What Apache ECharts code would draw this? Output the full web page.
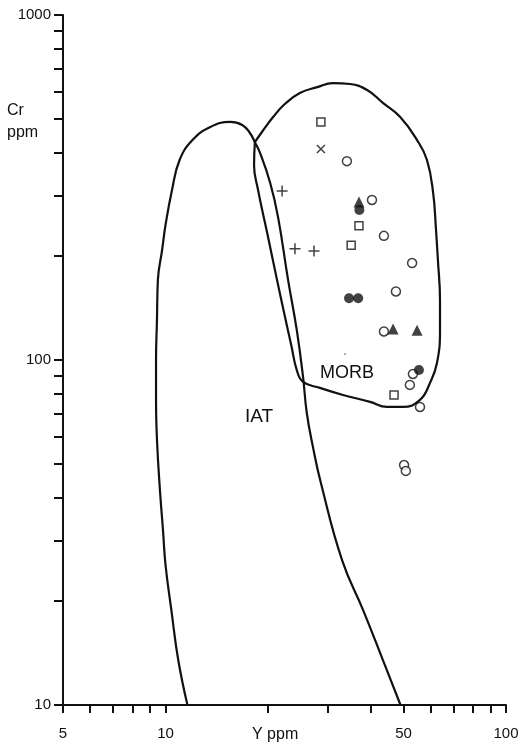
<!DOCTYPE html>
<html>
<head>
<meta charset="utf-8">
<script src="https://cdn.jsdelivr.net/npm/echarts@6/dist/echarts.min.js"></script>
<style>
  html, body { margin: 0; padding: 0; background: #fff; }
  #chart { width: 525px; height: 748px; }
</style>
</head>
<body>
<div id="chart"></div>
<script>
// Axis ticks and labels (Y ppm on x, Cr ppm on y, both logarithmic)
const xTickValues = [5, 6, 7, 8, 9, 10, 20, 30, 40, 50, 60, 70, 80, 90, 100];
const xLabelValues = [5, 10, 50, 100];
const yTickValues = [10, 20, 30, 40, 50, 60, 70, 80, 90, 100, 200, 300, 400, 500, 600, 700, 800, 900, 1000];
const yLabelValues = [10, 100, 1000];

// Island arc tholeiite field (open at the base)
const iatBoundary = [
  [11.6, 10], [10.9, 13.5], [10.4, 18.9], [10.0, 25.5], [9.83, 32.2], [9.63, 42.0],
  [9.44, 58.7], [9.38, 76.6], [9.38, 100], [9.44, 131], [9.50, 171], [9.77, 208],
  [10.0, 246], [10.45, 311], [11.0, 380], [12.0, 434], [13.5, 473], [15.5, 490],
  [16.8, 480], [17.7, 455], [18.3, 428], [18.9, 401], [20.3, 326], [21.4, 260],
  [22.9, 171], [24.3, 122], [25.35, 89.3], [26.0, 70.2], [27.1, 56.0], [28.6, 44.0],
  [33.0, 26.3], [38.0, 18.9], [43.5, 13.5], [49.0, 10]
];

// Mid-ocean ridge basalt field (closed)
const morbBoundary = [
  [18.3, 428], [19.2, 458], [20.7, 506], [22.4, 552], [24.8, 594], [27.9, 618],
  [31.0, 635], [34.8, 631], [39.1, 606], [43.5, 556], [48.9, 506], [54.8, 434],
  [58.6, 380], [61.1, 305], [62.3, 238], [63.1, 195], [64.0, 149], [64.0, 122],
  [62.7, 98.0], [59.8, 85.8], [55.9, 76.6], [49.8, 73.1], [44.7, 73.1], [39.9, 75.6],
  [33.2, 79.2], [28.4, 83.0], [25.35, 86.4], [24.3, 93.5], [23.4, 110.5], [22.3, 137],
  [21.25, 171], [19.9, 233], [18.7, 311], [18.2, 367], [18.3, 428]
];

// Samples, one list per symbol
const openCircles = [
  [34.1, 377], [40.4, 291], [43.8, 229], [53.0, 191], [47.5, 158], [43.8, 121],
  [53.3, 91.1], [52.2, 84.7], [55.9, 73.1], [50.2, 49.6], [50.8, 47.7]
];
const openSquares = [[28.6, 490], [37.0, 245], [35.1, 215], [46.9, 79.2]];
const crosses = [[28.6, 409]];
const plusses = [[22.0, 309], [24.0, 210], [27.3, 207]];
const filledCircles = [[37.1, 272], [34.6, 151], [36.8, 151], [55.5, 93.5]];
const filledTriangles = [[37.0, 287], [46.6, 123], [54.8, 122]];

const ink = '#111';
const font = '"Liberation Sans", Arial, sans-serif';

const chart = echarts.init(document.getElementById('chart'), null, { renderer: 'canvas' });

function boundary(data) {
  return {
    type: 'line', data, smooth: 0.45, symbol: 'none', silent: true,
    lineStyle: { color: ink, width: 2.2 }, z: 2
  };
}
function samples(data, symbol, size, filled) {
  return {
    type: 'scatter', data, symbol, symbolSize: size, silent: true, z: 5,
    itemStyle: filled
      ? { color: ink, borderWidth: 0 }
      : { color: '#fff', borderColor: ink, borderWidth: 1.5 }
  };
}
const plain = v => String(v);

chart.setOption({
  backgroundColor: '#fff',
  animation: false,
  grid: { left: 63, right: 19, top: 15, bottom: 43 },
  xAxis: {
    type: 'log', logBase: 10, min: 5, max: 100,
    axisLine: { show: true, lineStyle: { color: ink, width: 2 } },
    axisTick: { show: true, length: 8, inside: false, customValues: xTickValues,
      lineStyle: { color: ink, width: 2 } },
    axisLabel: { show: true, margin: 21, customValues: xLabelValues, formatter: plain,
      color: ink, fontSize: 15, fontFamily: font },
    splitLine: { show: false },
    minorTick: { show: false }
  },
  yAxis: {
    type: 'log', logBase: 10, min: 10, max: 1000,
    axisLine: { show: true, lineStyle: { color: ink, width: 2 } },
    axisTick: { show: true, length: 9, inside: false, customValues: yTickValues,
      lineStyle: { color: ink, width: 2 } },
    axisLabel: { show: true, margin: 12, customValues: yLabelValues, formatter: plain,
      color: ink, fontSize: 15, fontFamily: font },
    splitLine: { show: false },
    minorTick: { show: false }
  },
  graphic: [
    { type: 'text', left: 7, top: 103, style: { text: 'Cr', font: '16px ' + font, fill: ink } },
    { type: 'text', left: 7, top: 125, style: { text: 'ppm', font: '16px ' + font, fill: ink } },
    { type: 'text', left: 252, top: 727, style: { text: 'Y ppm', font: '16px ' + font, fill: ink } },
    { type: 'text', left: 245, top: 407, style: { text: 'IAT', font: '19px ' + font, fill: ink } },
    { type: 'text', left: 320, top: 364, style: { text: 'MORB', font: '18px ' + font, fill: ink } },
    { type: 'text', left: 343, top: 353, style: { text: '\u02C8', font: '12px ' + font, fill: ink } }
  ],
  series: [
    boundary(iatBoundary),
    boundary(morbBoundary),
    samples(openCircles, 'circle', 9, false),
    samples(openSquares, 'rect', 8, false),
    samples(crosses, 'path://M0,0L10,10M10,0L0,10', 8, false),
    samples(plusses, 'path://M5,0L5,10M0,5L10,5', 11, false),
    samples(filledCircles, 'circle', 10, true),
    samples(filledTriangles, 'triangle', 11, true)
  ]
});
</script>
</body>
</html>
